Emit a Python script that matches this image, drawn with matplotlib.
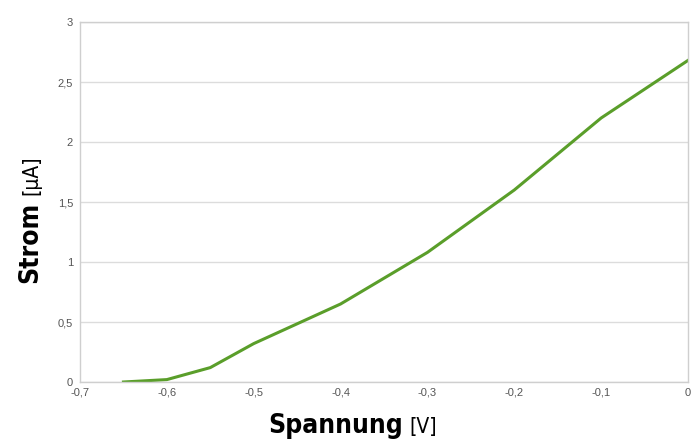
import matplotlib
matplotlib.use('Agg')
from matplotlib import pyplot as plt
from matplotlib import font_manager

# values
spannung = [-0.65, -0.6, -0.55, -0.5, -0.4, -0.3, -0.2, -0.1, 0.0]
strom = [0.0, 0.02, 0.12, 0.32, 0.65, 1.08, 1.6, 2.2, 2.68]

xticks = [-0.7, -0.6, -0.5, -0.4, -0.3, -0.2, -0.1, 0.0]
xticklabels = ['-0,7', '-0,6', '-0,5', '-0,4', '-0,3', '-0,2', '-0,1', '0']
yticks = [0, 0.5, 1, 1.5, 2, 2.5, 3]
yticklabels = ['0', '0,5', '1', '1,5', '2', '2,5', '3']

# look for a narrow / condensed font for the axis titles
bold_file = None
reg_file = None
for f in font_manager.fontManager.ttflist:
    n = f.name + ' ' + f.fname
    if 'Narrow' in n or 'Condensed' in n:
        if f.weight in ('bold', 700) and bold_file is None:
            bold_file = f.fname
        elif f.weight in ('normal', 400) and f.style == 'normal' and reg_file is None:
            reg_file = f.fname

if bold_file and reg_file:
    fp_big = font_manager.FontProperties(fname=bold_file, size=19)
    fp_small = font_manager.FontProperties(fname=reg_file, size=15)
else:
    fp_big = font_manager.FontProperties(family='DejaVu Sans', weight='bold', size=16)
    fp_small = font_manager.FontProperties(family='DejaVu Sans', size=12)

W, H = 696, 440
fig = plt.figure(figsize=(W / 100, H / 100), dpi=100)
ax = fig.add_axes([80 / W, 1 - 382 / H, 608 / W, 360 / H])

ax.plot(spannung, strom, color='#5a9e2a', linewidth=2.2, solid_joinstyle='round')

ax.set_xlim(-0.7, 0)
ax.set_ylim(0, 3)
ax.set_xticks(xticks)
ax.set_xticklabels(xticklabels)
ax.set_yticks(yticks)
ax.set_yticklabels(yticklabels)
ax.tick_params(length=0, labelsize=8, labelcolor='#555555', pad=5,
               labelfontfamily='Liberation Sans')
ax.tick_params(axis='x', pad=4)
ax.grid(axis='y', color='#dcdcdc', linewidth=1)
ax.set_axisbelow(True)
for s in ['left', 'bottom', 'right', 'top']:
    ax.spines[s].set_color('#cfcfcf')
    ax.spines[s].set_linewidth(1)

# axis titles: bold word + normal unit, the unit placed after the word
t1 = fig.text(268 / W, 1 - 433 / H, 'Spannung', fontproperties=fp_big,
              ha='left', va='baseline')
t2 = fig.text(0, 1 - 433 / H, '[V]', fontproperties=fp_small,
              ha='left', va='baseline')
t3 = fig.text(37 / W, 1 - 283 / H, 'Strom', fontproperties=fp_big,
              rotation=90, rotation_mode='anchor', ha='left', va='baseline')
t4 = fig.text(37 / W, 0, '[µA]', fontproperties=fp_small,
              rotation=90, rotation_mode='anchor', ha='left', va='baseline')

fig.canvas.draw()
r = fig.canvas.get_renderer()
b1 = t1.get_window_extent(r)
t2.set_x((b1.x1 + 7) / W)
b3 = t3.get_window_extent(r)
t4.set_y((b3.y1 + 7) / H)

plt.savefig('out.png', dpi=100)
plt.close()
